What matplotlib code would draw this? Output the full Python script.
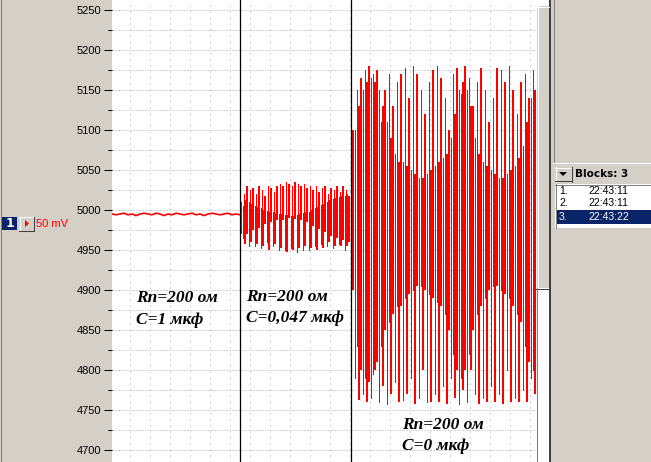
import numpy as np
import matplotlib
matplotlib.use("Agg")
import matplotlib.pyplot as plt
from matplotlib.patches import Rectangle, Polygon
from matplotlib.ticker import MultipleLocator

W, H = 651, 462
PANEL = "#d4d0c8"
NAVY = "#0a246a"

# block 1: R=200, C=1 uF -- nearly flat trace (mV)
seg1_mv = [4995, 4994, 4995, 4996, 4994, 4995, 4993, 4995, 4996, 4995, 4994,
           4996, 4995, 4993, 4995, 4994, 4996, 4995, 4994, 4995, 4996, 4994,
           4995, 4993, 4995, 4996, 4995, 4994, 4995, 4996, 4994, 4995, 4994]

# block 2: C=0.047 uF -- min/max columns of the compressed trace
seg2_up_top = [5010, 5020, 5030, 5025, 5028, 5020, 5030, 5025, 5018, 5030, 5028, 5022, 5030,
               5032, 5030, 5035, 5033, 5030, 5035, 5032, 5030, 5033, 5028, 5030, 5025, 5030,
               5022, 5028, 5030, 5020, 5028, 5025, 5030, 5022, 5030, 5025, 5018]
seg2_up_bot = [4970, 4968, 4970, 4972, 4975, 4975, 4978, 4980, 4982, 4984, 4985, 4986, 4987,
               4988, 4988, 4989, 4990, 4990, 4989, 4988, 4987, 4986, 4985, 4983, 4980, 4978,
               4976, 4975, 4972, 4970, 4968, 4966, 4965, 4963, 4962, 4960, 4960]
seg2_dn_top = [5005, 5012, 5010, 5008, 5005, 5004, 5002, 5000, 4999, 4998, 4997, 4996, 4995,
               4995, 4994, 4994, 4993, 4993, 4994, 4995, 4996, 4997, 4998, 5000, 5002, 5004,
               5006, 5008, 5010, 5012, 5014, 5015, 5016, 5018, 5018, 5020, 5022]
seg2_dn_bot = [4965, 4958, 4955, 4960, 4955, 4958, 4952, 4955, 4960, 4950, 4955, 4958, 4950,
               4952, 4950, 4948, 4952, 4950, 4948, 4952, 4950, 4955, 4950, 4952, 4955, 4950,
               4958, 4952, 4955, 4960, 4952, 4955, 4958, 4955, 4950, 4955, 4960]

# block 3: C=0 uF
seg3_up_top = [5100, 5150, 5165, 5175, 5180, 5170, 5175, 5110, 5150, 5170,
               5130, 5160, 5170, 5178, 5140, 5180, 5170, 5150, 5120, 5160,
               5175, 5180, 5165, 5140, 5100, 5170, 5178, 5145, 5180, 5165,
               5130, 5160, 5178, 5150, 5110, 5140, 5178, 5175, 5160, 5180,
               5150, 5120, 5160, 5170, 5140, 5175]
seg3_up_bot = [4900, 4830, 4800, 4790, 4785, 4795, 4810, 4830, 4850, 4860,
               4870, 4880, 4880, 4890, 4895, 4900, 4905, 4905, 4900, 4895,
               4890, 4885, 4880, 4870, 4850, 4820, 4800, 4790, 4800, 4820,
               4850, 4870, 4880, 4890, 4900, 4905, 4905, 4900, 4895, 4890,
               4880, 4870, 4860, 4830, 4810, 4800]
seg3_dn_top = [5100, 5130, 5150, 5160, 5165, 5160, 5150, 5130, 5110, 5090,
               5070, 5060, 5060, 5055, 5050, 5045, 5040, 5040, 5045, 5050,
               5055, 5060, 5065, 5070, 5090, 5120, 5150, 5160, 5150, 5130,
               5090, 5070, 5060, 5055, 5050, 5045, 5040, 5040, 5045, 5050,
               5055, 5065, 5080, 5110, 5140, 5150]
seg3_dn_bot = [4790, 4762, 4770, 4760, 4765, 4800, 4760, 4780, 4758, 4770,
               4785, 4760, 4762, 4770, 4790, 4758, 4765, 4800, 4760, 4760,
               4770, 4760, 4780, 4758, 4790, 4765, 4758, 4775, 4760, 4800,
               4770, 4758, 4765, 4760, 4780, 4760, 4770, 4758, 4800, 4760,
               4765, 4760, 4775, 4760, 4790, 4770]

block_marks = [128, 239]          # block boundaries, time units
y_ticks = [4700, 4750, 4800, 4850, 4900, 4950, 5000, 5050, 5100, 5150, 5200, 5250]
labels = [(24, 4890, 4862, "Rn=200 ом", "C=1 мкф"),
          (134, 4891, 4865, "Rn=200 ом", "C=0,047 мкф"),
          (290, 4731, 4705, "Rn=200 ом", "C=0 мкф")]
blocks = ["22:43:11", "22:43:11", "22:43:22"]


def fx(x):
    return x / W


def fy(y):
    return 1 - y / H


def rect(fig, x0, y0, x1, y1, color, **kw):
    fig.add_artist(Rectangle((fx(x0), fy(y1)), (x1 - x0) / W, (y1 - y0) / H,
                             transform=fig.transFigure, facecolor=color,
                             edgecolor="none", **kw))


def hline(fig, x0, x1, y, color):
    fig.add_artist(plt.Line2D([fx(x0), fx(x1)], [fy(y), fy(y)], color=color,
                              lw=0.75, transform=fig.transFigure))


def vline(fig, x, y0, y1, color):
    fig.add_artist(plt.Line2D([fx(x), fx(x)], [fy(y0), fy(y1)], color=color,
                              lw=0.75, transform=fig.transFigure))


def columns(ax, base, lo, hi, offs):
    # draw min/max columns; offs[parity] = (centre offset, width in px)
    lo, hi = np.asarray(lo), np.asarray(hi)
    for p in (0, 1):
        sel = np.arange(len(lo)) % 2 == p
        off, wpx = offs[p]
        ax.vlines(base[sel] + off, lo[sel], hi[sel], color="red", lw=wpx * 0.72,
                  antialiased=False, zorder=3)


fig = plt.figure(figsize=(W / 100, H / 100), dpi=100, facecolor=PANEL)
ax = fig.add_axes([fx(112), 0, (536 - 112) / W, 1])
ax.set_facecolor("white")
ax.set_xlim(0, 424)
ax.set_ylim(4685, 5262.5)
for s in ax.spines.values():
    s.set_visible(False)

# grid
for v in np.arange(4700, 5251, 25):
    ax.axhline(v, color="#a8a8a8", lw=0.72, ls=(0, (1, 2)), zorder=0)
for t in np.arange(18, 424, 20):
    ax.axvline(t, color="#a8a8a8", lw=0.72, ls=(0, (1, 5)), zorder=0)

# trace
t1 = np.arange(len(seg1_mv)) * 4
ax.plot(t1, seg1_mv, color="red", lw=1.2, zorder=3)

b2 = 128 + np.arange(len(seg2_up_top)) * 3.0
columns(ax, b2, seg2_up_bot, seg2_up_top, [(1.0, 2), (0.5, 1)])
columns(ax, b2, seg2_dn_bot, seg2_dn_top, [(2.5, 1), (2.0, 2)])

b3 = 240 + np.arange(len(seg3_up_top)) * 4.0
columns(ax, b3, seg3_up_bot, seg3_up_top, [(1.0, 2), (0.5, 1)])
columns(ax, b3, seg3_dn_bot, seg3_dn_top, [(2.5, 1), (3.0, 2)])

for b in block_marks:
    ax.axvline(b, color="black", lw=0.9, zorder=4)

for x, y1, y2, l1, l2 in labels:
    for y, s in ((y1, l1), (y2, l2)):
        ax.text(x, y, s, family="Liberation Serif", weight="bold", style="italic",
                fontsize=12.5, ha="left", va="center", zorder=5)

# y axis
ax.set_xticks([])
ax.set_yticks(y_ticks)
ax.yaxis.set_minor_locator(MultipleLocator(25))
ax.tick_params(axis="y", which="major", length=6, width=0.72, pad=1.5,
               labelsize=8, color="black")
ax.tick_params(axis="y", which="minor", length=3, width=0.72, color="black")
for lab in ax.get_yticklabels():
    lab.set_family("Liberation Sans")

# left panel: channel button
vline(fig, 0.5, 0, H, "#808080")
rect(fig, 2, 217, 17, 230, NAVY)
fig.text(fx(9.5), fy(223.5), "1", color="white", fontsize=9, weight="bold",
         ha="center", va="center", family="DejaVu Sans")
rect(fig, 19, 217, 34, 231, PANEL)
hline(fig, 19, 34, 217.5, "white")
vline(fig, 19.5, 217, 231, "white")
hline(fig, 19, 34, 230.5, "#404040")
vline(fig, 33.5, 217, 231, "#404040")
fig.add_artist(Polygon([(fx(25), fy(220)), (fx(25), fy(227)), (fx(29), fy(223.5))],
                       closed=True, facecolor="red", edgecolor="none",
                       transform=fig.transFigure))
fig.text(fx(36), fy(223.5), "50 mV", color="red", fontsize=8, ha="left",
         va="center", family="Liberation Sans")

# scroll bar
rect(fig, 536, 0, 549, H, "white")
rect(fig, 537, 6, 549, 288, PANEL)
hline(fig, 537, 549, 6.5, "white")
vline(fig, 537.5, 6, 288, "white")
hline(fig, 536, 549, 288.5, "#404040")
vline(fig, 536.5, 288, H, "#808080")
rect(fig, 549, 0, 551, H, "#404040")
vline(fig, 553.5, 0, 163, "#808080")

# right panel: block list
hline(fig, 553, W, 163, "white")
rect(fig, 555, 167, 572, 182, PANEL)
hline(fig, 555, 572, 167.5, "white")
vline(fig, 555.5, 167, 182, "white")
hline(fig, 555, 572, 181.5, "#404040")
vline(fig, 571.5, 167, 182, "#404040")
fig.add_artist(Polygon([(fx(559), fy(172)), (fx(567), fy(172)), (fx(563), fy(176))],
                       closed=True, facecolor="black", edgecolor="none",
                       transform=fig.transFigure))
fig.text(fx(575), fy(174), "Blocks: 3", fontsize=7.5, weight="bold", ha="left",
         va="center", family="DejaVu Sans")
rect(fig, 555, 184, W, 228, "white")
hline(fig, 555, W, 184.5, "#808080")
vline(fig, 555.5, 184, 228, "#808080")
rect(fig, 556, 210, W, 224, NAVY)
for i, stamp in enumerate(blocks):
    yy = [191.5, 203.5, 217][i]
    col = "white" if i == len(blocks) - 1 else "black"
    fig.text(fx(559), fy(yy), f"{i + 1}.", fontsize=7.5, color=col, ha="left",
             va="center", family="Liberation Sans")
    fig.text(fx(588), fy(yy), stamp, fontsize=7.5, color=col, ha="left",
             va="center", family="Liberation Sans")

fig.savefig("out.png", dpi=100, facecolor=PANEL)
